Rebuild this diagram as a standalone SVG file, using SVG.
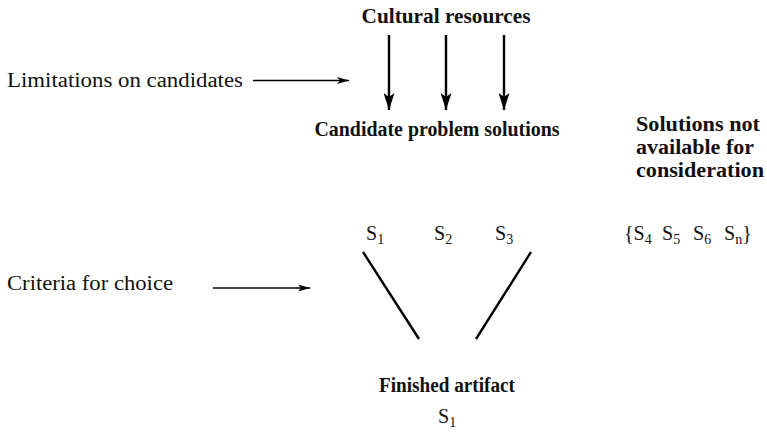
<svg xmlns="http://www.w3.org/2000/svg" width="767" height="432" viewBox="0 0 767 432">
  <defs>
    <!-- slim arrowhead for the horizontal input arrows -->
    <marker id="head" viewBox="0 0 12 10" refX="12" refY="5" markerWidth="12" markerHeight="10" markerUnits="userSpaceOnUse" orient="auto">
      <path d="M0,1.5 L12,5 L0,8.5 L3,5 Z" fill="#000"/>
    </marker>
    <!-- long narrow arrowhead for the downward flow arrows -->
    <marker id="headBig" viewBox="0 0 11 17" refX="5.5" refY="17" markerWidth="11" markerHeight="17" markerUnits="userSpaceOnUse" orient="0">
      <path d="M0,0 L5.5,4 L11,0 L5.5,17 Z" fill="#000"/>
    </marker>
  </defs>
  <style>
    text { font-family: "Liberation Serif", "DejaVu Serif", serif; fill: #111; }
    .lbl { font-size: 20px; }
    .bold { font-size: 20px; font-weight: bold; }
    .sub { font-size: 14px; }
    .thin { stroke: #000; stroke-width: 1.3; fill: none; }
    .thick { stroke: #000; stroke-width: 2.4; fill: none; }
  </style>

  <rect width="767" height="432" fill="#fff"/>

  <g id="cultural-resources">
    <text class="bold" x="446" y="23" text-anchor="middle" textLength="169" lengthAdjust="spacingAndGlyphs">Cultural resources</text>
  </g>

  <g id="limitations">
    <text class="lbl" x="7" y="87" textLength="236" lengthAdjust="spacingAndGlyphs">Limitations on candidates</text>
  </g>

  <g id="candidates">
    <text class="bold" x="437" y="136" text-anchor="middle" textLength="245" lengthAdjust="spacingAndGlyphs">Candidate problem solutions</text>
    <text class="lbl" x="366" y="240">S<tspan class="sub" dy="4">1</tspan></text>
    <text class="lbl" x="434" y="240">S<tspan class="sub" dy="4">2</tspan></text>
    <text class="lbl" x="495" y="240">S<tspan class="sub" dy="4">3</tspan></text>
  </g>

  <g id="unavailable">
    <text class="bold" x="636" y="131" textLength="124" lengthAdjust="spacingAndGlyphs">Solutions not</text>
    <text class="bold" x="636" y="154" textLength="118" lengthAdjust="spacingAndGlyphs">available for</text>
    <text class="bold" x="636" y="177" textLength="128" lengthAdjust="spacingAndGlyphs">consideration</text>
    <!-- unavailable set, one S per evenly spaced slot -->
    <text class="lbl" y="240"><tspan x="624">{S</tspan><tspan class="sub" dy="4">4</tspan><tspan x="662" dy="-4">S</tspan><tspan class="sub" dy="4">5</tspan><tspan x="693" dy="-4">S</tspan><tspan class="sub" dy="4">6</tspan><tspan x="724" dy="-4">S</tspan><tspan class="sub" dy="4">n</tspan><tspan dy="-4">}</tspan></text>
  </g>

  <g id="criteria">
    <text class="lbl" x="7" y="290" textLength="166" lengthAdjust="spacingAndGlyphs">Criteria for choice</text>
  </g>

  <g id="finished-artifact">
    <text class="bold" x="447" y="392" text-anchor="middle" textLength="136" lengthAdjust="spacingAndGlyphs">Finished artifact</text>
    <text class="lbl" x="438" y="423">S<tspan class="sub" dy="4">1</tspan></text>
  </g>

  <g id="connectors">
    <line class="thin" x1="253" y1="80.5" x2="349" y2="80.5" marker-end="url(#head)"/>
    <line class="thin" x1="213" y1="288" x2="310" y2="288" marker-end="url(#head)"/>
    <line class="thick" x1="389" y1="35" x2="389" y2="110" marker-end="url(#headBig)"/>
    <line class="thick" x1="446" y1="35" x2="446" y2="110" marker-end="url(#headBig)"/>
    <line class="thick" x1="504" y1="35" x2="504" y2="110" marker-end="url(#headBig)"/>
    <line class="thick" x1="363" y1="252" x2="419" y2="339"/>
    <line class="thick" x1="531" y1="252" x2="476" y2="339"/>
  </g>
</svg>
